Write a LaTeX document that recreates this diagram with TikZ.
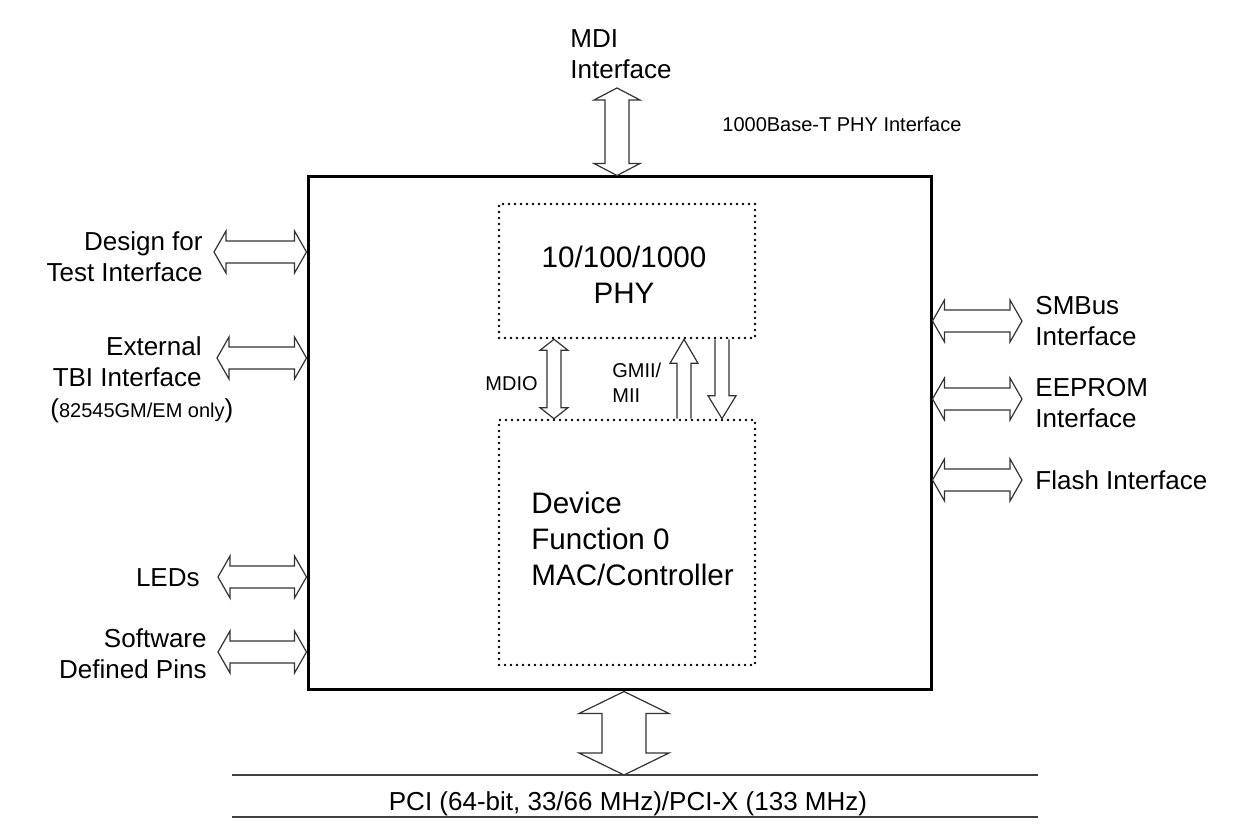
\documentclass[tikz,border=0pt]{standalone}
\usepackage{fontspec}
\setmainfont{Liberation Sans}
\usetikzlibrary{positioning, calc}

\tikzset{
  chip/.style={draw, line width=1.5pt, minimum width=311.5pt, minimum height=256.5pt},
  dotbox/.style={draw, line width=1.3pt, dash pattern=on 0pt off 3pt, line cap=round,
                 minimum width=128pt},
  barrow/.style={draw=black!80, line width=0.6pt, fill=white, line join=miter},
  lbl/.style={font=\fontsize{13}{15.6}\selectfont, inner sep=0pt},
  biglbl/.style={font=\fontsize{14.8}{18}\selectfont, inner sep=0pt},
  smalllbl/.style={font=\fontsize{10}{12.5}\selectfont, inner sep=0pt},
  busline/.style={draw=black!75, line width=0.6pt}
}

% double block arrow, left end #1 to right end #2 (shaft half, head half, head length)
\newcommand{\hbarrow}[5]{\path[barrow] let \p1=(#1), \p2=(#2) in
  (\x1,\y1) -- (\x1+#5,\y1+#4) -- (\x1+#5,\y1+#3) -- (\x2-#5,\y1+#3)
  -- (\x2-#5,\y1+#4) -- (\x2,\y1) -- (\x2-#5,\y1-#4) -- (\x2-#5,\y1-#3)
  -- (\x1+#5,\y1-#3) -- (\x1+#5,\y1-#4) -- cycle;}
% double block arrow, top end #1 to bottom end #2
\newcommand{\vbarrow}[5]{\path[barrow] let \p1=(#1), \p2=(#2) in
  (\x1,\y1) -- (\x1+#4,\y1-#5) -- (\x1+#3,\y1-#5) -- (\x1+#3,\y2+#5)
  -- (\x1+#4,\y2+#5) -- (\x1,\y2) -- (\x1-#4,\y2+#5) -- (\x1-#3,\y2+#5)
  -- (\x1-#3,\y1-#5) -- (\x1-#4,\y1-#5) -- cycle;}
% single block arrows: tip #1 above tail #2 / tail #1 above tip #2
\newcommand{\upbarrow}[5]{\path[barrow] let \p1=(#1), \p2=(#2) in
  (\x1-#3,\y2) -- (\x1-#3,\y1-#5) -- (\x1-#4,\y1-#5) -- (\x1,\y1)
  -- (\x1+#4,\y1-#5) -- (\x1+#3,\y1-#5) -- (\x1+#3,\y2);}
\newcommand{\downbarrow}[5]{\path[barrow] let \p1=(#1), \p2=(#2) in
  (\x2-#3,\y1) -- (\x2-#3,\y2+#5) -- (\x2-#4,\y2+#5) -- (\x2,\y2)
  -- (\x2+#4,\y2+#5) -- (\x2+#3,\y2+#5) -- (\x2+#3,\y1);}

\begin{document}
\begin{tikzpicture}[x=0.5pt, y=-0.5pt]
\useasboundingbox (0,0) rectangle (1242,838);

% blocks
\node[chip] (chip) at (619.5,433.5) {};
\node[dotbox, minimum height=67pt] (phy) at (627,271) {};
\node[dotbox, minimum height=122.5pt] (mac) at (627,542.5) {};

\node[biglbl, align=center, anchor=base] (phytxt) at (624,304) {10/100/1000\\PHY};
\node[biglbl, align=left, anchor=base west] (mactxt) at (531,586) {Device\\Function 0\\MAC/Controller};

% free ends of the connectors
\coordinate (mdi) at (617,88);
\coordinate (dft) at (214,252);
\coordinate (tbi) at (217,358);
\coordinate (leds) at (218,577);
\coordinate (sdp) at (218,652);
\coordinate (smb) at (1022,321);
\coordinate (eep) at (1022,399);
\coordinate (fla) at (1022,480);
\coordinate (busNW) at (232,775);
\coordinate (busNE) at (1038,775);
\coordinate (busSW) at (232,817);
\coordinate (busSE) at (1038,817);

% connectors
\vbarrow{mdi}{mdi |- chip.north}{6pt}{11.5pt}{6pt}
\hbarrow{dft}{chip.west |- dft}{5.5pt}{10.5pt}{6pt}
\hbarrow{tbi}{chip.west |- tbi}{5.5pt}{10.5pt}{6pt}
\hbarrow{leds}{chip.west |- leds}{5.5pt}{10.5pt}{6pt}
\hbarrow{sdp}{chip.west |- sdp}{5.5pt}{10.5pt}{6pt}
\hbarrow{chip.east |- smb}{smb}{5.5pt}{10.5pt}{6pt}
\hbarrow{chip.east |- eep}{eep}{5.5pt}{10.5pt}{6pt}
\hbarrow{chip.east |- fla}{fla}{5.5pt}{10.5pt}{6pt}
\vbarrow{[xshift=-36.5pt]phy.south}{[xshift=-36.5pt]mac.north}{3.5pt}{7pt}{5.5pt}
\upbarrow{[xshift=28.5pt]phy.south}{[xshift=28.5pt]mac.north}{3.5pt}{7pt}{12pt}
\downbarrow{[xshift=47.5pt]phy.south}{[xshift=47.5pt]mac.north}{3.5pt}{7pt}{11.5pt}
\vbarrow{[xshift=2.25pt]chip.south}{[xshift=2.25pt]chip.south |- busNW}{11pt}{22.5pt}{11pt}

% PCI bus
\draw[busline] (busNW) -- (busNE);
\draw[busline] (busSW) -- (busSE);

% labels
\node[lbl, align=left, anchor=base west] (mditxt) at (570,79) {MDI\\Interface};
\node[smalllbl, anchor=base west] (phyif) at (722,132) {1000Base-T PHY Interface};
\node[lbl, align=right, anchor=base east] (dfttxt) at (203,282) {Design for\\Test Interface};
\node[lbl, align=right, anchor=base east] (tbitxt) at (202,387) {External\\TBI Interface};
\node[lbl, anchor=base west] (tbinote) at (50,418) {({\fontsize{10}{12}\selectfont 82545GM/EM only})};
\node[lbl, anchor=base east] (ledtxt) at (200,587) {LEDs};
\node[lbl, align=right, anchor=base east] (sdptxt) at (207,679) {Software\\Defined Pins};
\node[lbl, align=left, anchor=base west] (smbtxt) at (1035,346) {SMBus\\Interface};
\node[lbl, align=left, anchor=base west] (eeptxt) at (1035,428) {EEPROM\\Interface};
\node[lbl, anchor=base west] (flatxt) at (1035,490) {Flash Interface};
\node[smalllbl, anchor=base west] (mdiotxt) at (485,391) {MDIO};
\node[smalllbl, align=left, anchor=base west] (gmiitxt) at (612,403) {GMII/\\MII};
\node[lbl, anchor=base] (pcitxt) at (628,810) {PCI (64-bit, 33/66 MHz)/PCI-X (133 MHz)};
\end{tikzpicture}
\end{document}
